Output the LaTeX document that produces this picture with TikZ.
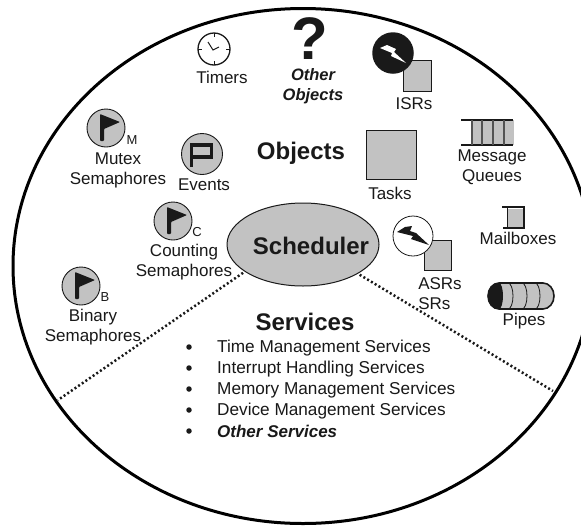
\documentclass[tikz,border=0pt]{standalone}
\usepackage{fontspec}
\usetikzlibrary{shapes.geometric}
\setmainfont{Liberation Sans}
\definecolor{gf}{gray}{0.76}
\definecolor{ink}{gray}{0.1}
\tikzset{x=1pt,y=-1pt,
 lbl/.style={font=\fontsize{17}{20}\selectfont,align=center,text=ink,inner sep=0pt},
 ilbl/.style={font=\fontsize{16.5}{19.5}\selectfont\bfseries\itshape,align=center,text=ink,inner sep=0pt},
 head/.style={font=\fontsize{24}{26}\selectfont\bfseries,inner sep=0pt,text=ink},
 svc/.style={font=\fontsize{17.2}{20}\selectfont,anchor=west,inner sep=0pt,text=ink},
 bul/.style={circle,fill=ink,inner sep=0pt,minimum size=5.5pt},
 sub/.style={font=\fontsize{13}{14}\selectfont,inner sep=0pt,text=ink},
 disc/.style={circle,draw=ink,fill=gf,line width=0.9pt,minimum size=38pt,inner sep=0pt},
 sq/.style={draw=ink,fill=gf,line width=0.9pt,inner sep=0pt},
 dots/.style={line width=2.5pt,dash pattern=on 2pt off 2.4pt,draw=ink}}
\newcommand{\flag}[2]{\fill[ink,rounded corners=0.8pt] ({#1-6},{#2-14}) -- ({#1+14},{#2-6}) -- ({#1-2},{#2+1}) -- ({#1-2},{#2+13}) -- ({#1-6},{#2+13}) -- cycle;}
\begin{document}
\begin{tikzpicture}
\useasboundingbox (0,0) rectangle (581,528);
\fill[white] (0,0) rectangle (581,528);
\begin{scope}
\clip (0,0) rectangle (581,528);
\node[ellipse,draw=black,line width=3pt,minimum width=580pt,minimum height=515pt,inner sep=0pt] (world) at (303,266) {};
\end{scope}
% scheduler
\node[ellipse,draw=ink,fill=gf,line width=1pt,minimum width=152pt,minimum height=83pt,inner sep=0pt] (sched) at (303,244.5) {};
\node[head,font=\fontsize{24}{26}\selectfont\bfseries] (schedt) at (311,246) {Scheduler};
\coordinate (dl) at (58,400);
\coordinate (dr) at (553,391);
\draw[dots,shorten <=2pt] (sched.205) -- (dl);
\draw[dots,shorten <=2pt] (sched.-28) -- (dr);
% headings
\node[head] (objects) at (301,153) {Objects};
\node[head] (services) at (305,322) {Services};
% services
\foreach \y/\t/\n in {348/Time Management Services/a,369/Interrupt Handling Services/b,390/Memory Management Services/c,411/Device Management Services/d}{
 \node[bul] (b\n) at (189,{\y-1}) {};
 \node[svc] (s\n) at (217,\y) {\t};
}
\node[bul] (be) at (189,431) {};
\node[svc,font=\fontsize{17}{20}\selectfont\bfseries\itshape] (se) at (217,431) {Other Services};
% timers
\node[circle,draw=ink,line width=1.3pt,minimum size=32pt,inner sep=0pt] (timer) at (214,49) {};
\draw[ink,line width=1pt] (208,42) -- (213,50) -- (219,47);
\draw[ink,line width=.8pt] (214,33)--(214,37) (214,61)--(214,65) (198,49)--(202,49) (226,49)--(230,49);
\node[lbl] (timers) at (222,77) {Timers};
% other objects
\node[font=\fontsize{60}{60}\selectfont\bfseries,text=ink,inner sep=0pt] (qm) at (310,39) {?};
\node[ilbl] (other) at (313,86) {Other\\Objects};
% ISRs
\node[sq,minimum width=28pt,minimum height=31pt] (isrsq) at (417,75.5) {};
\node[circle,fill=ink,minimum size=41.5pt,inner sep=0pt] (isrc) at (393,53) {};
\fill[white] (380,48) -- (387,45) -- (396,49) -- (394,52) -- (406,63) -- (391,56) -- (392,53) -- cycle;
\node[lbl] (isrs) at (414,104) {ISRs};
% mutex
\node[disc] (mutexd) at (106,128) {};
\flag{106}{128}
\node[sub] (m) at (132,140) {M};
\node[lbl] (mutex) at (118,170) {Mutex\\Semaphores};
% events
\node[disc,minimum size=41pt] (eventd) at (202,154) {};
\draw[ink,line width=3.4pt] (191.5,167) -- (191.5,145) -- (211.5,145) -- (211.5,157) -- (191.5,157);
\node[lbl] (events) at (204,185) {Events};
% counting
\node[disc] (countd) at (173,221) {};
\flag{173}{221}
\node[sub] (c) at (197,232) {C};
\node[lbl] (count) at (184,262) {Counting\\Semaphores};
% binary
\node[disc] (bind) at (81,286) {};
\flag{81}{286}
\node[sub] (b) at (105,297) {B};
\node[lbl] (binary) at (93,327) {Binary\\Semaphores};
% tasks
\node[sq,minimum width=50pt,minimum height=49pt] (tasks) at (391,154.5) {};
\node[lbl] (taskl) at (390,193) {Tasks};
% queues
\fill[gf] (472,120) rectangle (514,145);
\draw[ink,line width=2.2pt] (461,120) -- (513,120) (461,145) -- (513,145);
\foreach \x in {472,482,493,504}{\draw[ink!75,line width=1.2pt] (\x,120) -- (\x,145);}
\node[lbl] (mq) at (492,167) {Message\\Queues};
% mailbox
\fill[gf] (507,209) rectangle (523,227);
\draw[ink,line width=2.4pt] (502,207) -- (524,207) -- (524,228) -- (503,228);
\draw[ink,line width=1pt] (507,207) -- (507,228);
\node[lbl] (mail) at (518,238) {Mailboxes};
% ASRs
\node[sq,minimum width=27pt,minimum height=30pt] (asrsq) at (437.5,255) {};
\node[circle,draw=ink,fill=white,line width=.8pt,minimum size=40pt,inner sep=0pt] (asrc) at (413,236) {};
\fill[ink] (397,232) -- (405,227) -- (412,226) -- (410,231) -- (416,233) -- (429,245) -- (411,239) -- (413,236) -- cycle;
\node[lbl,align=left] (asrs) at (440,294) {ASRs\\SRs};
% pipes
\draw[ink,line width=1.6pt,fill=gf] (499,283) -- (543,283) arc[start angle=-90,end angle=90,x radius=11,y radius=13] -- (499,309) arc[start angle=90,end angle=270,x radius=11,y radius=13] -- cycle;
\fill[ink] (499,283) arc[start angle=-90,end angle=-270,x radius=11,y radius=13] arc[start angle=90,end angle=-90,x radius=4,y radius=13] -- cycle;
\foreach \x in {508,522,535}{\draw[ink,line width=.8pt] (\x,283) arc[start angle=-90,end angle=90,x radius=5,y radius=13];}
\node[lbl] (pipes) at (524,321) {Pipes};
\end{tikzpicture}
\end{document}
